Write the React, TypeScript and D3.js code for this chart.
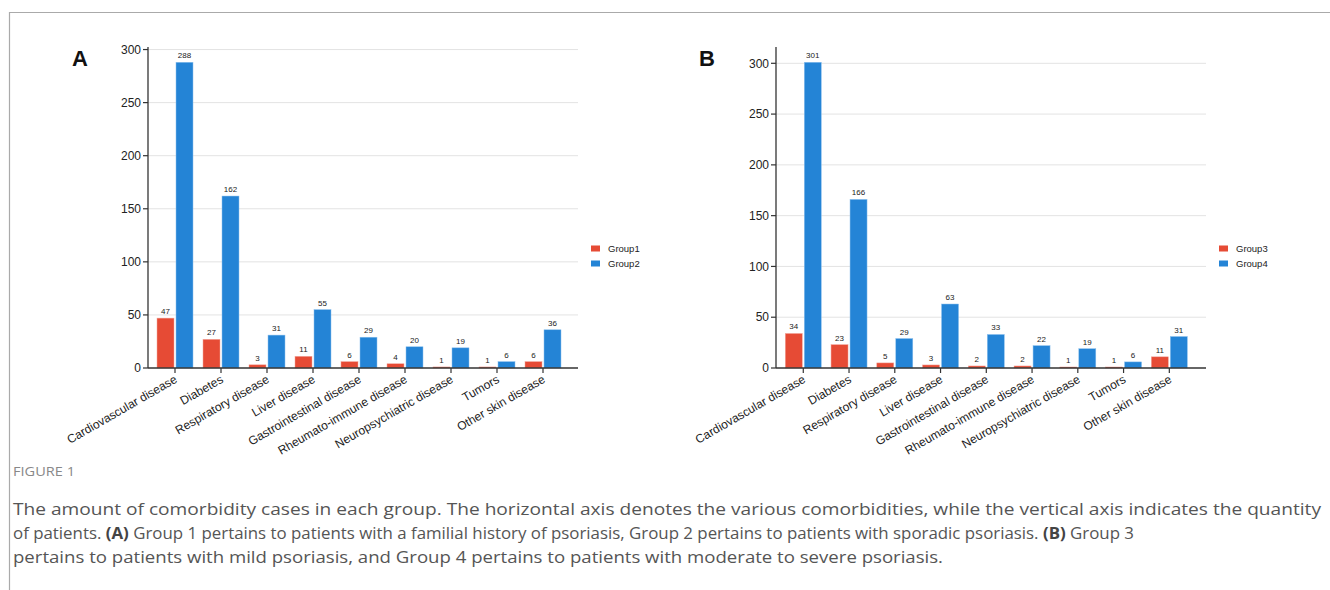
import React from "react";
import * as d3 from "d3";

const categories = [
  "Cardiovascular disease",
  "Diabetes",
  "Respiratory disease",
  "Liver disease",
  "Gastrointestinal disease",
  "Rheumato-immune disease",
  "Neuropsychiatric disease",
  "Tumors",
  "Other skin disease",
];
const group1 = [47, 27, 3, 11, 6, 4, 1, 1, 6];
const group2 = [288, 162, 31, 55, 29, 20, 19, 6, 36];
const group3 = [34, 23, 5, 3, 2, 2, 1, 1, 11];
const group4 = [301, 166, 29, 63, 33, 22, 19, 6, 31];
const yTicks = [0, 50, 100, 150, 200, 250, 300];
const captionTitle = "FIGURE 1";
const captionLines = [
  "The amount of comorbidity cases in each group. The horizontal axis denotes the various comorbidities, while the vertical axis indicates the quantity",
  "of patients. |(A)| Group 1 pertains to patients with a familial history of psoriasis, Group 2 pertains to patients with sporadic psoriasis. |(B)| Group 3",
  "pertains to patients with mild psoriasis, and Group 4 pertains to patients with moderate to severe psoriasis.",
];
const captionWidths = [1308, 1121, 930];

const RED = "#E64B35";
const BLUE = "#2484D6";
const FONT = "Liberation Sans, Arial, Helvetica, sans-serif";

type PanelProps = {
  letter: string;
  letterX: number;
  axisX: number;
  axisEnd: number;
  bandStart: number;
  bandEnd: number;
  a: number[];
  b: number[];
  names: [string, string];
  legendX: number;
};

function Panel(p: PanelProps) {
  const top = 47;
  const bottom = 368;
  const maxV = d3.max(p.b.concat(p.a)) as number;
  const y = d3.scaleLinear().domain([0, maxV * 1.05]).range([bottom, top]);
  const x = d3.scaleBand<string>().domain(categories).range([p.bandStart, p.bandEnd]);
  const bw = 17;
  return (
    <g fontFamily={FONT}>
      <text x={p.letterX} y={66} fontSize={22} fontWeight="bold" textAnchor="middle" fill="#111">
        {p.letter}
      </text>
      {yTicks.filter((t) => t > 0).map((t) => (
        <line key={"g" + t} x1={p.axisX} x2={p.axisEnd} y1={y(t)} y2={y(t)} stroke="#e3e3e3" strokeWidth={1} />
      ))}
      {categories.map((c, i) => {
        const cx = (x(c) as number) + x.bandwidth() / 2;
        return (
          <g key={c}>
            <rect x={cx - 1 - bw} y={y(p.a[i])} width={bw} height={bottom - y(p.a[i])} fill={RED} stroke="#f2a69b" strokeWidth={0.5} />
            <rect x={cx + 1} y={y(p.b[i])} width={bw} height={bottom - y(p.b[i])} fill={BLUE} stroke="#8cc0ee" strokeWidth={0.5} />
            <text x={cx - 1 - bw / 2} y={y(p.a[i]) - 4} fontSize={8} textAnchor="middle" fill="#222">{p.a[i]}</text>
            <text x={cx + 1 + bw / 2} y={y(p.b[i]) - 4} fontSize={8} textAnchor="middle" fill="#222">{p.b[i]}</text>
            <line x1={cx} x2={cx} y1={bottom} y2={bottom + 5} stroke="#333" strokeWidth={1.2} />
            <text
              transform={`translate(${cx + 1},${bottom + 10}) rotate(-30)`}
              fontSize={12}
              textAnchor="end"
              dy="0.35em"
              fill="#222"
            >
              {c}
            </text>
          </g>
        );
      })}
      <line x1={p.axisX} x2={p.axisEnd} y1={bottom} y2={bottom} stroke="#333" strokeWidth={1.3} />
      <line x1={p.axisX} x2={p.axisX} y1={top} y2={bottom} stroke="#333" strokeWidth={1.3} />
      {yTicks.map((t) => (
        <g key={"t" + t}>
          <line x1={p.axisX - 5} x2={p.axisX} y1={y(t)} y2={y(t)} stroke="#333" strokeWidth={1.2} />
          <text x={p.axisX - 7} y={y(t)} dy="0.35em" fontSize={12} textAnchor="end" fill="#222">{t}</text>
        </g>
      ))}
      {p.names.map((n, i) => (
        <g key={n}>
          <rect x={p.legendX} y={245.5 + i * 15} width={9} height={6} fill={i === 0 ? RED : BLUE} />
          <text x={p.legendX + 17} y={248.5 + i * 15} dy="0.35em" fontSize={9.5} fill="#222">{n}</text>
        </g>
      ))}
    </g>
  );
}

export default function App() {
  return (
    <svg width={1330} height={590} style={{ position: "absolute", left: 0, top: 0, background: "#fff" }}>
      <rect x={0} y={0} width={1330} height={590} fill="#fff" />
      <line x1={9} x2={1330} y1={12.5} y2={12.5} stroke="#aaa" strokeWidth={1.2} />
      <line x1={9.5} x2={9.5} y1={12} y2={590} stroke="#aaa" strokeWidth={1.2} />
      <Panel
        letter="A"
        letterX={80}
        axisX={148}
        axisEnd={578}
        bandStart={152}
        bandEnd={566}
        a={group1}
        b={group2}
        names={["Group1", "Group2"]}
        legendX={591}
      />
      <Panel
        letter="B"
        letterX={707}
        axisX={776}
        axisEnd={1206}
        bandStart={780.4}
        bandEnd={1192.2}
        a={group3}
        b={group4}
        names={["Group3", "Group4"]}
        legendX={1219}
      />
      <text x={13} y={476} fontSize={13} fill="#888" fontFamily="Open Sans, Lato, sans-serif" textLength={62} lengthAdjust="spacingAndGlyphs">
        {captionTitle}
      </text>
      {captionLines.map((line, i) => (
        <text
          key={i}
          x={13}
          y={515 + i * 24}
          fontSize={16.5}
          fill="#555"
          fontFamily="Open Sans, Lato, sans-serif"
          textLength={captionWidths[i]}
          lengthAdjust="spacingAndGlyphs"
        >
          {line.split("|").map((seg, j) => (
            <tspan key={j} fontWeight={seg.startsWith("(") ? "bold" : "normal"} fill={seg.startsWith("(") ? "#444" : "#555"}>
              {seg}
            </tspan>
          ))}
        </text>
      ))}
    </svg>
  );
}
